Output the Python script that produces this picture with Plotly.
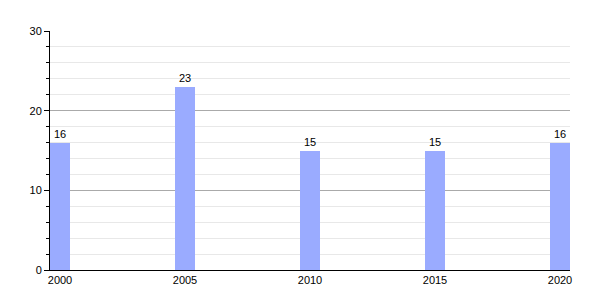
import plotly.graph_objects as go

years = [2000, 2005, 2010, 2015, 2020]
values = [16, 23, 15, 15, 16]
tick_labels = ["2000", "2005", "2010", "2015", "2020"]

bar_w = 0.8
centers = [y + bar_w / 2 for y in years]

fig = go.Figure(go.Bar(
    x=years, y=values, width=bar_w, offset=0,
    marker=dict(color="#9aabff", line=dict(width=0)),
    text=[str(v) for v in values], textposition="outside",
    textfont=dict(family="Liberation Sans, Arial, sans-serif", size=11, color="black"),
    cliponaxis=False,
))

fig.update_layout(
    width=600, height=300,
    margin=dict(l=50, r=30, t=31, b=30),
    plot_bgcolor="white", paper_bgcolor="white",
    showlegend=False,
    font=dict(family="Liberation Sans, Arial, sans-serif", size=11, color="black"),
    xaxis=dict(
        range=[years[0], years[-1] + bar_w],
        tickvals=centers, ticktext=tick_labels,
        showgrid=False, zeroline=False,
        showline=True, linecolor="black", linewidth=1,
        ticks="", ticklen=0,
    ),
    yaxis=dict(
        range=[0, 30], dtick=10, tick0=0,
        showgrid=True, gridcolor="#aaaaaa", gridwidth=1,
        zeroline=False,
        showline=True, linecolor="black", linewidth=1,
        ticks="outside", ticklen=5, tickcolor="black",
        minor=dict(dtick=2, ticks="outside", ticklen=3, tickcolor="black",
                   showgrid=True, gridcolor="#e8e8e8", gridwidth=1),
    ),
    bargap=0,
)

fig.write_html("out.html")
